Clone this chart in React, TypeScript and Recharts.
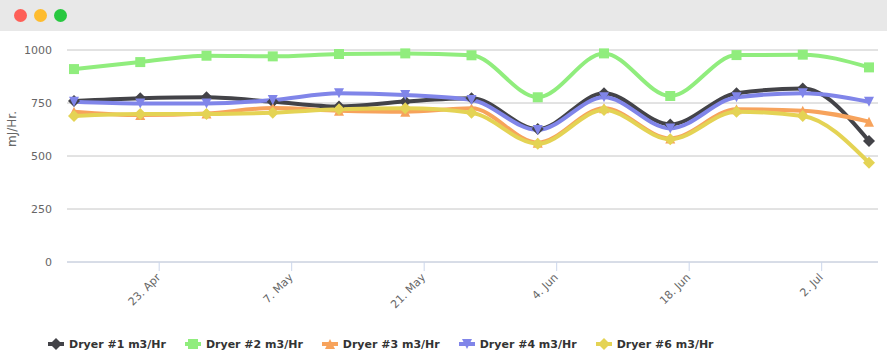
import React from 'react';
import { LineChart, Line, XAxis, YAxis, CartesianGrid } from 'recharts';

const dates = ['2018-04-14','2018-04-21','2018-04-28','2018-05-05','2018-05-12','2018-05-19','2018-05-26','2018-06-02','2018-06-09','2018-06-16','2018-06-23','2018-06-30','2018-07-07'];
const dryer1 = [759, 772, 777, 756, 733, 757, 772, 627, 796, 649, 796, 818, 571];
const dryer2 = [910, 943, 973, 970, 981, 984, 975, 777, 984, 783, 976, 978, 918];
const dryer3 = [709, 693, 701, 726, 714, 709, 725, 563, 725, 583, 720, 714, 662];
const dryer4 = [756, 748, 748, 764, 796, 788, 764, 623, 777, 630, 777, 796, 756];
const dryer6 = [689, 698, 698, 704, 720, 725, 704, 558, 717, 579, 709, 689, 468];

const tickDates = ['2018-04-23','2018-05-07','2018-05-21','2018-06-04','2018-06-18','2018-07-02'];
const tickLabels = ['23. Apr','7. May','21. May','4. Jun','18. Jun','2. Jul'];
const yTicks = [0, 250, 500, 750, 1000];
const yLabel = 'mJ/Hr.';

const seriesNames = ['Dryer #1 m3/Hr','Dryer #2 m3/Hr','Dryer #3 m3/Hr','Dryer #4 m3/Hr','Dryer #6 m3/Hr'];
const seriesColors = ['#434348','#90ed7d','#f7a35c','#8085e9','#e4d354'];
const seriesShapes = ['diamond','square','triangle','triangle-down','diamond'];
const seriesValues = [dryer1, dryer2, dryer3, dryer4, dryer6];

const DAY = 86400000;
const toT = (s: string) => Date.parse(s + 'T00:00:00Z');
const keys = ['d1','d2','d3','d4','d6'];

const data = dates.map((d, i) => {
  const row: any = { t: toT(d) };
  keys.forEach((k, j) => { row[k] = seriesValues[j][i]; });
  return row;
});

const tickValues = tickDates.map(toT);
const t0 = toT(dates[0]);
const tN = toT(dates[dates.length - 1]);
const xDomain = [t0 - 0.74 * DAY, tN + 0.95 * DAY];

function markerPath(shape: string, cx: number, cy: number, r: number) {
  if (shape === 'diamond') return `M${cx},${cy - r}L${cx + r},${cy}L${cx},${cy + r}L${cx - r},${cy}Z`;
  if (shape === 'square') return `M${cx - r},${cy - r}L${cx + r},${cy - r}L${cx + r},${cy + r}L${cx - r},${cy + r}Z`;
  if (shape === 'triangle') return `M${cx},${cy - r}L${cx + r},${cy + r}L${cx - r},${cy + r}Z`;
  return `M${cx - r},${cy - r}L${cx + r},${cy - r}L${cx},${cy + r}Z`;
}

const makeDot = (shape: string, color: string) => (props: any) => {
  const { cx, cy, index } = props;
  if (cx == null || cy == null) return <g key={index} />;
  const r = shape === 'diamond' ? 6 : 5;
  return <path key={index} d={markerPath(shape, cx, cy, r)} fill={color} />;
};

const XTick = (props: any) => {
  const { x, payload } = props;
  const idx = tickValues.indexOf(payload.value);
  const px = x + 2;
  const py = 278;
  return (
    <text x={px} y={py} transform={`rotate(-45, ${px}, ${py})`} textAnchor="end" fill="#666666" fontSize={11} fontFamily="DejaVu Sans">
      {idx >= 0 ? tickLabels[idx] : ''}
    </text>
  );
};

const YLabel = () => (
  <text x={16} y={129} transform="rotate(-90, 16, 129)" textAnchor="middle" fill="#666666" fontSize={12} fontFamily="DejaVu Sans">
    {yLabel}
  </text>
);

const Circle = ({ color }: { color: string }) => (
  <div style={{ width: 13, height: 13, borderRadius: '50%', background: color, marginRight: 7 }} />
);

export default function App() {
  return (
    <div style={{ position: 'fixed', left: 0, top: 0, width: 887, height: 360, background: '#ffffff', overflow: 'hidden', fontFamily: 'DejaVu Sans' }}>
      <div style={{ position: 'absolute', left: 0, top: 0 }}>
        <LineChart width={887} height={360} data={data} margin={{ top: 50, right: 9, bottom: 0, left: 0 }}>
          <CartesianGrid vertical={false} stroke="#c6c6c6" />
          <XAxis
            dataKey="t"
            type="number"
            domain={xDomain}
            ticks={tickValues}
            allowDataOverflow
            height={98}
            stroke="#ccd6eb"
            tickSize={9}
            tick={<XTick />}
            interval={0}
          />
          <YAxis
            type="number"
            domain={[0, 1000]}
            ticks={yTicks}
            width={67}
            axisLine={false}
            tickLine={false}
            tickSize={0}
            tickMargin={15}
            tick={{ fill: '#666666', fontSize: 11, fontFamily: 'DejaVu Sans' }}
            label={<YLabel />}
          />
          {keys.map((k, j) => (
            <Line
              key={k}
              dataKey={k}
              type="monotone"
              stroke={seriesColors[j]}
              strokeWidth={4}
              dot={makeDot(seriesShapes[j], seriesColors[j])}
              activeDot={false}
              isAnimationActive={false}
            />
          ))}
        </LineChart>
      </div>
      <div style={{ position: 'absolute', left: 0, top: 0, width: 887, height: 31, background: '#e8e8e8', display: 'flex', alignItems: 'center', paddingLeft: 14, boxSizing: 'border-box' }}>
        <Circle color="#fe5f57" />
        <Circle color="#febc2e" />
        <Circle color="#28c840" />
      </div>
      <div style={{ position: 'absolute', left: 48, top: 336, display: 'flex', alignItems: 'center', height: 16 }}>
        {seriesNames.map((n, j) => (
          <div key={n} style={{ display: 'flex', alignItems: 'center', marginRight: 19 }}>
            <svg width={16} height={14} style={{ marginRight: 5 }}>
              <line x1={0} y1={7} x2={16} y2={7} stroke={seriesColors[j]} strokeWidth={4} />
              <path d={markerPath(seriesShapes[j], 8, 7, seriesShapes[j] === 'diamond' ? 6 : 5)} fill={seriesColors[j]} />
            </svg>
            <span style={{ fontSize: 11, fontWeight: 'bold', color: '#333333', fontFamily: 'DejaVu Sans' }}>{n}</span>
          </div>
        ))}
      </div>
    </div>
  );
}
